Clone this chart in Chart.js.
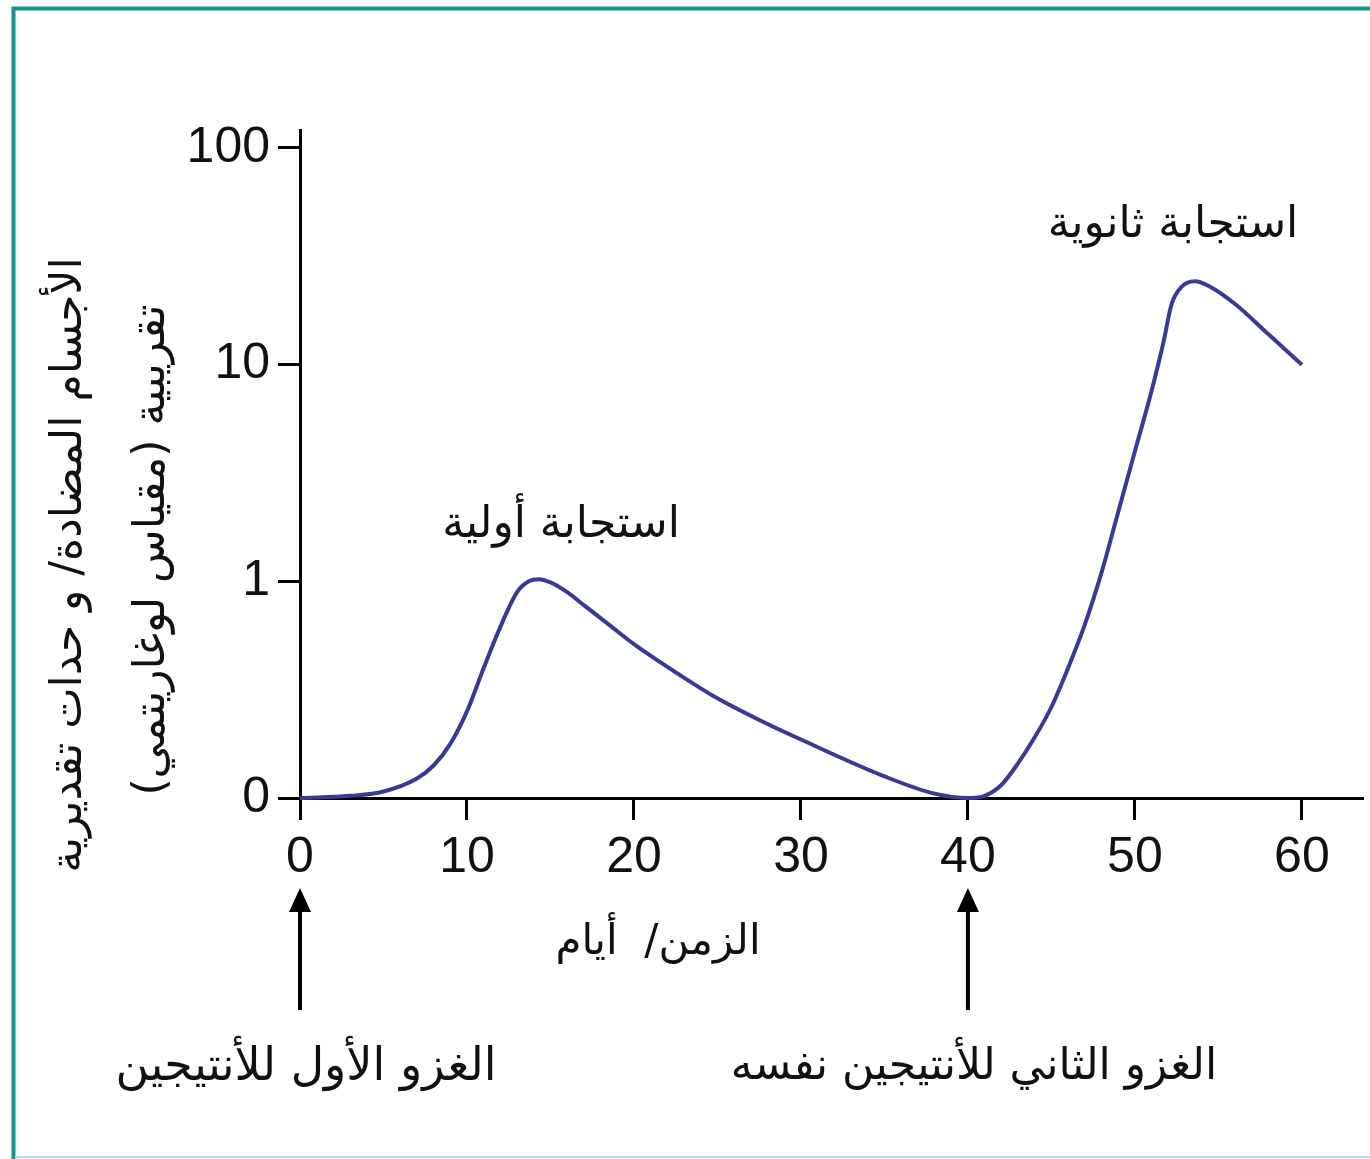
<!DOCTYPE html>
<html lang="ar">
<head>
<meta charset="utf-8">
<script src="https://cdn.jsdelivr.net/npm/chart.js@4.4.1/dist/chart.umd.min.js"></script>
<style>
  html, body { margin: 0; padding: 0; background: #fff; }
  #wrap { width: 1370px; height: 1159px; position: relative; }
</style>
</head>
<body>
<div id="wrap"><canvas id="c"></canvas></div>
<script>
// time in days
const days = [0, 3, 5, 7, 8, 9, 10, 11, 12, 13, 13.7, 14.3, 15, 16, 17, 18.5, 20, 22.5, 25, 27.5, 30, 35, 38, 40,
  41, 42, 43, 44, 45, 46, 47, 48, 49, 50, 51, 51.7, 52.2, 52.8, 53.6, 54.5, 56, 58, 60];
// position on the axis, one step per decade (0 -> "0", 1 -> "1", 2 -> "10", 3 -> "100")
const levelPos = [0, 0.01, 0.03, 0.09, 0.15, 0.25, 0.4, 0.6, 0.79, 0.95, 1.0, 1.01, 0.995, 0.95, 0.89, 0.8, 0.71, 0.58, 0.46, 0.36, 0.27, 0.1, 0.02, 0,
  0.01, 0.06, 0.16, 0.28, 0.42, 0.6, 0.8, 1.04, 1.32, 1.6, 1.88, 2.1, 2.28, 2.36, 2.385, 2.36, 2.28, 2.14, 2.0];

const yTickValues = [0, 1, 2, 3];
const yTickLabels = ["0", "1", "10", "100"];
const xTickValues = [0, 10, 20, 30, 40, 50, 60];

const yTitleLines = ["الأجسام المضادة/ و حدات تقديرية", "تقريبية (مقياس لوغاريتمي)"];
const xTitle = "الزمن/  أيام";
const peakLabels = ["استجابة أولية", "استجابة ثانوية"];
const exposureDays = [0, 40];
const exposureLabels = ["الغزو الأول للأنتيجين", "الغزو الثاني للأنتيجين نفسه"];
const exposureFontSize = [46, 44];

const arabicFont = '"DejaVu Sans", "Noto Sans", sans-serif';
const lineColor = "#3a3a96";

// frame, titles, labels and arrows
const decorations = {
  id: "decorations",
  afterDraw(chart) {
    const { ctx, scales } = chart;
    const x = scales.x;
    ctx.save();

    // teal frame
    ctx.strokeStyle = "#17958a";
    ctx.lineWidth = 4;
    ctx.beginPath();
    ctx.moveTo(13.5, 1159);
    ctx.lineTo(13.5, 8.5);
    ctx.lineTo(1370, 8.5);
    ctx.stroke();
    ctx.strokeStyle = "#a6e4ee";
    ctx.lineWidth = 2;
    ctx.beginPath();
    ctx.moveTo(15, 1157);
    ctx.lineTo(1370, 1157);
    ctx.stroke();

    ctx.fillStyle = "#111";
    ctx.direction = "rtl";
    ctx.textAlign = "center";
    ctx.textBaseline = "middle";

    // peak labels
    ctx.font = "44px " + arabicFont;
    ctx.fillText(peakLabels[0], 561, 526);
    ctx.fillText(peakLabels[1], 1173, 226);

    // x title
    ctx.font = "42px " + arabicFont;
    ctx.fillText(xTitle, 658, 943);

    // y title, rotated
    ctx.font = "44px " + arabicFont;
    ctx.save();
    ctx.translate(70, 565);
    ctx.rotate(-Math.PI / 2);
    ctx.fillText(yTitleLines[0], 0, 0);
    ctx.restore();
    ctx.save();
    ctx.translate(153, 550);
    ctx.rotate(-Math.PI / 2);
    ctx.fillText(yTitleLines[1], 0, 0);
    ctx.restore();

    // exposure arrows + labels
    exposureDays.forEach((d, i) => {
      const px = x.getPixelForValue(d);
      ctx.fillStyle = "#000";
      ctx.fillRect(px - 2, 908, 4, 102);
      ctx.beginPath();
      ctx.moveTo(px, 888);
      ctx.lineTo(px - 11, 912);
      ctx.lineTo(px + 11, 912);
      ctx.closePath();
      ctx.fill();
      ctx.fillStyle = "#111";
      ctx.font = exposureFontSize[i] + "px " + arabicFont;
      ctx.fillText(exposureLabels[i], px + 6, 1068);
    });

    ctx.restore();
  }
};

new Chart(document.getElementById("c"), {
  type: "line",
  data: {
    datasets: [{
      data: days.map((d, i) => ({ x: d, y: levelPos[i] })),
      borderColor: lineColor,
      borderWidth: 4,
      pointRadius: 0,
      cubicInterpolationMode: "monotone",
      fill: false,
      clip: false
    }]
  },
  options: {
    responsive: true,
    maintainAspectRatio: false,
    animation: false,
    layout: { padding: { left: 0, top: 130, right: 8, bottom: 0 } },
    plugins: { legend: { display: false }, tooltip: { enabled: false } },
    scales: {
      x: {
        type: "linear",
        min: 0,
        max: 63.6,
        afterBuildTicks: (s) => { s.ticks = xTickValues.map((v) => ({ value: v })); },
        afterFit: (s) => { s.height = 361; },
        border: { display: true, color: "#000", width: 3 },
        grid: { drawOnChartArea: false, drawTicks: true, tickLength: 22, color: "#000", lineWidth: 3 },
        ticks: {
          color: "#111",
          padding: 8,
          maxRotation: 0,
          font: { family: '"Liberation Sans", Arial, sans-serif', size: 50 }
        }
      },
      y: {
        type: "linear",
        min: 0,
        max: 3.083,
        afterBuildTicks: (s) => { s.ticks = yTickValues.map((v) => ({ value: v })); },
        afterFit: (s) => { s.width = 300; },
        border: { display: true, color: "#000", width: 3 },
        grid: { drawOnChartArea: false, drawTicks: true, tickLength: 22, color: "#000", lineWidth: 3 },
        ticks: {
          color: "#111",
          padding: 8,
          font: { family: '"Liberation Sans", Arial, sans-serif', size: 50 },
          callback: (v) => yTickLabels[yTickValues.indexOf(v)]
        }
      }
    }
  },
  plugins: [decorations]
});
</script>
</body>
</html>
